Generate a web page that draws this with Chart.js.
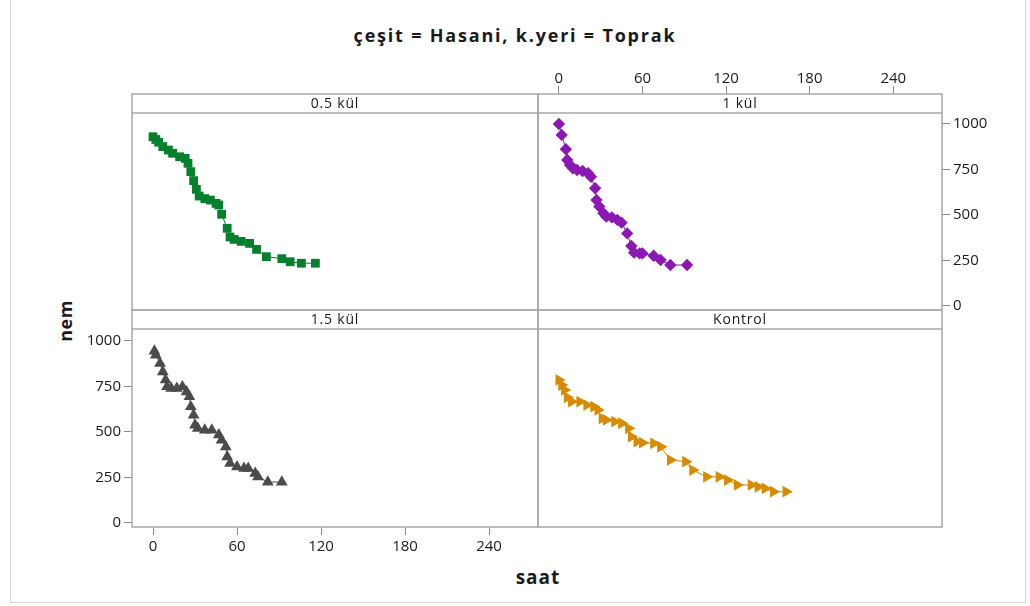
<!DOCTYPE html>
<html>
<head>
<meta charset="utf-8">
<script src="https://cdn.jsdelivr.net/npm/chart.js@4.4.1/dist/chart.umd.min.js"></script>
<style>
  html, body { margin: 0; padding: 0; background: #fff; }
  body { width: 1030px; height: 606px; overflow: hidden; position: relative; font-family: 'Open Sans', 'Noto Sans', sans-serif; }
  canvas { position: absolute; left: 0; top: 0; }
  .frame { position: absolute; left: 10px; top: 0px; width: 1016px; height: 603px; border: 1px solid #d4d4d4; border-top: none; box-sizing: border-box; }
  #title { position: absolute; left: 0; top: 22px; width: 1030px; text-align: center; font-weight: bold; font-size: 18px; letter-spacing: 1.8px; color: #1a1a1a; line-height: 26px; }
  #ylab { position: absolute; left: 65px; top: 321px; transform: translate(-50%, -50%) rotate(-90deg); font-weight: bold; font-size: 18px; letter-spacing: 0.5px; color: #1a1a1a; white-space: nowrap; }
  #xlab { position: absolute; left: 538px; top: 577px; transform: translate(-50%, -50%); font-weight: bold; font-size: 19px; letter-spacing: 1px; color: #1a1a1a; white-space: nowrap; }
</style>
</head>
<body>
<div class="frame"></div>
<div id="title">çeşit = Hasani, k.yeri = Toprak</div>
<div id="ylab">nem</div>
<div id="xlab">saat</div>
<canvas id="c1" width="1030" height="606"></canvas>
<canvas id="c2" width="1030" height="606"></canvas>
<canvas id="c3" width="1030" height="606"></canvas>
<canvas id="c4" width="1030" height="606"></canvas>
<script>
// ---- data ----
const saatTicks = [0, 60, 120, 180, 240];
const nemTicks = [0, 250, 500, 750, 1000];
const panelLabels = ['0.5 kül', '1 kül', '1.5 kül', 'Kontrol'];

const saat05 = [0, 2, 4, 7, 11, 14, 19, 23, 25, 27, 29, 31, 33, 37, 41, 45, 47, 49, 53, 55, 58, 63, 69, 74, 81, 92, 98, 106, 116];
const nem05  = [930, 915, 900, 876, 857, 839, 820, 811, 784, 738, 689, 641, 604, 590, 582, 564, 555, 504, 427, 379, 366, 355, 344, 311, 271, 260, 243, 235, 235];

const saat1 = [0, 2, 5, 6, 8, 10, 13, 17, 21, 23, 26, 27, 29, 32, 34, 38, 42, 45, 49, 52, 54, 58, 60, 68, 73, 80, 92];
const nem1  = [1000, 940, 861, 802, 775, 757, 747, 742, 729, 710, 647, 582, 546, 509, 491, 487, 473, 458, 399, 330, 293, 289, 289, 276, 253, 225, 225];

const saat15 = [1, 2, 5, 7, 9, 10, 13, 17, 21, 24, 26, 27, 29, 30, 32, 37, 42, 47, 49, 52, 53, 55, 60, 65, 68, 73, 75, 82, 92];
const nem15  = [945, 923, 877, 831, 786, 749, 740, 740, 749, 721, 694, 639, 593, 538, 520, 511, 511, 484, 456, 419, 364, 328, 309, 300, 300, 273, 254, 225, 225];

const saatK = [0, 2, 4, 6, 9, 15, 20, 25, 28, 31, 34, 40, 45, 50, 52, 56, 60, 68, 73, 80, 91, 96, 106, 115, 121, 128, 138, 143, 148, 154, 163];
const nemK  = [786, 758, 731, 690, 667, 667, 648, 639, 621, 575, 566, 557, 548, 520, 474, 447, 441, 438, 419, 346, 337, 291, 254, 254, 236, 209, 209, 199, 190, 172, 172];

// ---- styling ----
const FONT = "'Open Sans', 'Noto Sans', sans-serif";
const BORDER = '#a9a9a9';
const TICKC = '#8a8a8a';
const TXT = '#1a1a1a';
const HEADER_H = 19;
const TICK_FONT = { size: 15, family: FONT };

function panelPlugin(label) {
  return {
    id: 'panelFrame',
    afterDraw(chart) {
      const { ctx, chartArea: a } = chart;
      ctx.save();
      ctx.strokeStyle = BORDER;
      ctx.lineWidth = 1.5;
      ctx.strokeRect(a.left, a.top, a.right - a.left, a.bottom - a.top);
      ctx.beginPath();
      ctx.moveTo(a.left, a.top + HEADER_H);
      ctx.lineTo(a.right, a.top + HEADER_H);
      ctx.stroke();
      ctx.fillStyle = TXT;
      ctx.font = '14px ' + FONT;
      if ('letterSpacing' in ctx) ctx.letterSpacing = '0.8px';
      ctx.textAlign = 'center';
      ctx.textBaseline = 'middle';
      ctx.fillText(label, (a.left + a.right) / 2, a.top + HEADER_H / 2 + 1);
      ctx.restore();
    }
  };
}

function axisCommon(extra) {
  return Object.assign({
    type: 'linear',
    grid: { drawOnChartArea: false, drawTicks: true, tickLength: 8, color: TICKC, lineWidth: 1 },
    border: { display: false },
  }, extra);
}

// layout: panel boxes (header + plot) in page pixels
// left col x 132..538, right col x 538..942 ; top row y 94..310, bottom row y 310..527
function makePanel(id, xs, ys, cfg) {
  const points = xs.map((x, i) => ({ x: x, y: ys[i] }));
  const xShow = !!cfg.xPos, yShow = !!cfg.yPos;
  const XH = 34, YW = 60;
  const box = cfg.box; // [left, top, right, bottom]
  const pad = {
    left: box[0] - (yShow && cfg.yPos === 'left' ? YW : 0),
    right: 1030 - box[2] - (yShow && cfg.yPos === 'right' ? YW : 0),
    top: box[1] - (xShow && cfg.xPos === 'top' ? XH : 0),
    bottom: 606 - box[3] - (xShow && cfg.xPos === 'bottom' ? XH : 0)
  };
  const hPx = box[3] - box[1];
  const yMin = -22;
  const yMax = yMin + hPx / 0.182;
  new Chart(document.getElementById(id), {
    type: 'scatter',
    data: {
      datasets: [{
        data: points,
        showLine: true,
        borderColor: cfg.color,
        borderWidth: 1,
        backgroundColor: cfg.color,
        pointBackgroundColor: cfg.color,
        pointBorderColor: cfg.color,
        pointBorderWidth: 0,
        pointStyle: cfg.style,
        pointRadius: cfg.radius,
        pointRotation: cfg.rotation || 0
      }]
    },
    options: {
      responsive: false,
      animation: false,
      events: [],
      layout: { padding: pad },
      plugins: { legend: { display: false }, tooltip: { enabled: false }, title: { display: false } },
      scales: {
        x: axisCommon({
          min: -15, max: 275,
          display: xShow,
          position: cfg.xPos || 'bottom',
          afterBuildTicks: s => { s.ticks = saatTicks.map(v => ({ value: v })); },
          afterFit: s => { if (xShow) s.height = XH; },
          ticks: { font: TICK_FONT, color: TXT, padding: cfg.xPos === 'top' ? -2 : 3, maxRotation: 0, autoSkip: false, callback: v => String(v) }
        }),
        y: axisCommon({
          min: yMin, max: yMax,
          display: yShow,
          position: cfg.yPos || 'left',
          afterBuildTicks: s => { s.ticks = nemTicks.map(v => ({ value: v })); },
          afterFit: s => { if (yShow) s.width = YW; },
          ticks: { font: TICK_FONT, color: TXT, padding: 3, autoSkip: false, callback: v => String(v) }
        })
      }
    },
    plugins: [panelPlugin(cfg.label)]
  });
}

makePanel('c1', saat05, nem05, { box: [132, 94, 538, 310], label: panelLabels[0], color: '#06802c', style: 'rect', radius: 6.2 });
makePanel('c2', saat1, nem1, { box: [538, 94, 942, 310], label: panelLabels[1], color: '#8c18b4', style: 'rectRot', radius: 6.2, xPos: 'top', yPos: 'right' });
makePanel('c3', saat15, nem15, { box: [132, 310, 538, 527], label: panelLabels[2], color: '#4b4b4b', style: 'triangle', radius: 6.8, xPos: 'bottom', yPos: 'left' });
makePanel('c4', saatK, nemK, { box: [538, 310, 942, 527], label: panelLabels[3], color: '#d68b04', style: 'triangle', radius: 6.8, rotation: 90 });
</script>
</body>
</html>
